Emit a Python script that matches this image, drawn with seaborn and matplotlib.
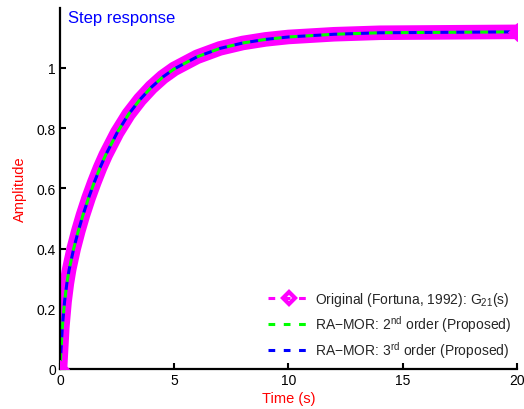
import numpy as np
import pandas as pd
import seaborn as sns
import matplotlib.pyplot as plt
from matplotlib.lines import Line2D
from matplotlib.ticker import FuncFormatter

# ---- Data
time_s = [0, 0.1, 0.2, 0.3, 0.4, 0.6, 0.8, 1.0, 1.25, 1.5, 1.75, 2.0, 2.5,
          3.0, 3.5, 4.0, 4.5, 5.0, 6.0, 7.0, 8.0, 9.0, 10.0, 12.0, 14.0,
          16.0, 18.0, 20.0]
original = [0, 0.138, 0.224, 0.284, 0.330, 0.400, 0.458, 0.510, 0.568,
            0.620, 0.668, 0.711, 0.785, 0.846, 0.895, 0.936, 0.970, 0.997,
            1.037, 1.065, 1.083, 1.095, 1.103, 1.112, 1.117, 1.118, 1.119,
            1.120]
order2 = [0, 0.137, 0.223, 0.284, 0.330, 0.400, 0.458, 0.510, 0.568,
          0.620, 0.668, 0.711, 0.785, 0.846, 0.895, 0.936, 0.970, 0.997,
          1.037, 1.065, 1.083, 1.095, 1.103, 1.112, 1.117, 1.118, 1.119,
          1.120]
order3 = [0, 0.138, 0.224, 0.284, 0.330, 0.400, 0.458, 0.510, 0.568,
          0.620, 0.668, 0.711, 0.785, 0.846, 0.895, 0.936, 0.970, 0.997,
          1.037, 1.065, 1.083, 1.095, 1.103, 1.112, 1.117, 1.118, 1.119,
          1.120]

labels = [r"Original (Fortuna, 1992): G$_{21}$(s)",
          r"RA$-$MOR: 2$^{nd}$ order (Proposed)",
          r"RA$-$MOR: 3$^{rd}$ order (Proposed)"]
x_ticks = [0, 5, 10, 15, 20]
y_ticks = [0, 0.2, 0.4, 0.6, 0.8, 1.0]

df = pd.DataFrame({'t': time_s, 'orig': original, 'o2': order2, 'o3': order3})

# ---- Style
sns.set_style('ticks')
plt.rcParams['font.family'] = ['Liberation Sans', 'DejaVu Sans']
plt.rcParams['mathtext.default'] = 'regular'

fig = plt.figure(figsize=(5.24, 4.10), dpi=100)
ax = fig.add_axes([0.1145, 0.0976, 0.872, 0.881])

MAG, GRN, BLU = '#ff00ff', '#00ff00', '#0000ff'

# thick magenta band (original), green and blue dashed on top
sns.lineplot(data=df, x='t', y='orig', ax=ax, color=MAG, linewidth=10.5,
             sort=False, errorbar=None, solid_capstyle='butt',
             solid_joinstyle='round')
sns.scatterplot(data=df.iloc[[0, -1]], x='t', y='orig', ax=ax, color=MAG,
                marker='D', s=95, linewidth=0, zorder=3)
sns.lineplot(data=df, x='t', y='o2', ax=ax, color=GRN, linewidth=2.2,
             sort=False, errorbar=None, linestyle=(2.6, (2.6, 2.6)))
sns.lineplot(data=df, x='t', y='o3', ax=ax, color=BLU, linewidth=2.2,
             sort=False, errorbar=None, linestyle=(0, (2.6, 2.6)))

ax.set_xlim(0, 20)
ax.set_ylim(0, 1.2)
ax.set_xticks(x_ticks)
ax.set_yticks(y_ticks)
ax.yaxis.set_major_formatter(FuncFormatter(lambda v, p: f"{v:g}"))
ax.tick_params(direction='in', length=4, width=1.5, labelsize=10,
               colors='black', pad=3)
for s in ['left', 'bottom']:
    ax.spines[s].set_linewidth(1.6)
    ax.spines[s].set_color('black')
sns.despine(ax=ax)

ax.set_xlabel('Time (s)', color='red', fontsize=10.5, labelpad=3)
ax.set_ylabel('Amplitude', color='red', fontsize=10.5, labelpad=7)
ax.text(0.018, 0.993, 'Step response', transform=ax.transAxes, color=BLU,
        fontsize=12, ha='left', va='top')

handles = [
    Line2D([], [], color=MAG, lw=2.2, ls=(0, (2.2, 2.8)), marker='D',
           markersize=6, mfc='none', mew=3),
    Line2D([], [], color=GRN, lw=2.2, ls=(0, (2.2, 2.8))),
    Line2D([], [], color=BLU, lw=2.2, ls=(0, (2.2, 2.8))),
]
ax.legend(handles, labels, loc='lower right', frameon=False, fontsize=10,
          handlelength=3.0, handletextpad=0.4, labelspacing=0.35,
          borderaxespad=0.0, bbox_to_anchor=(1.0, 0.01))

fig.savefig('out.png', dpi=100)
